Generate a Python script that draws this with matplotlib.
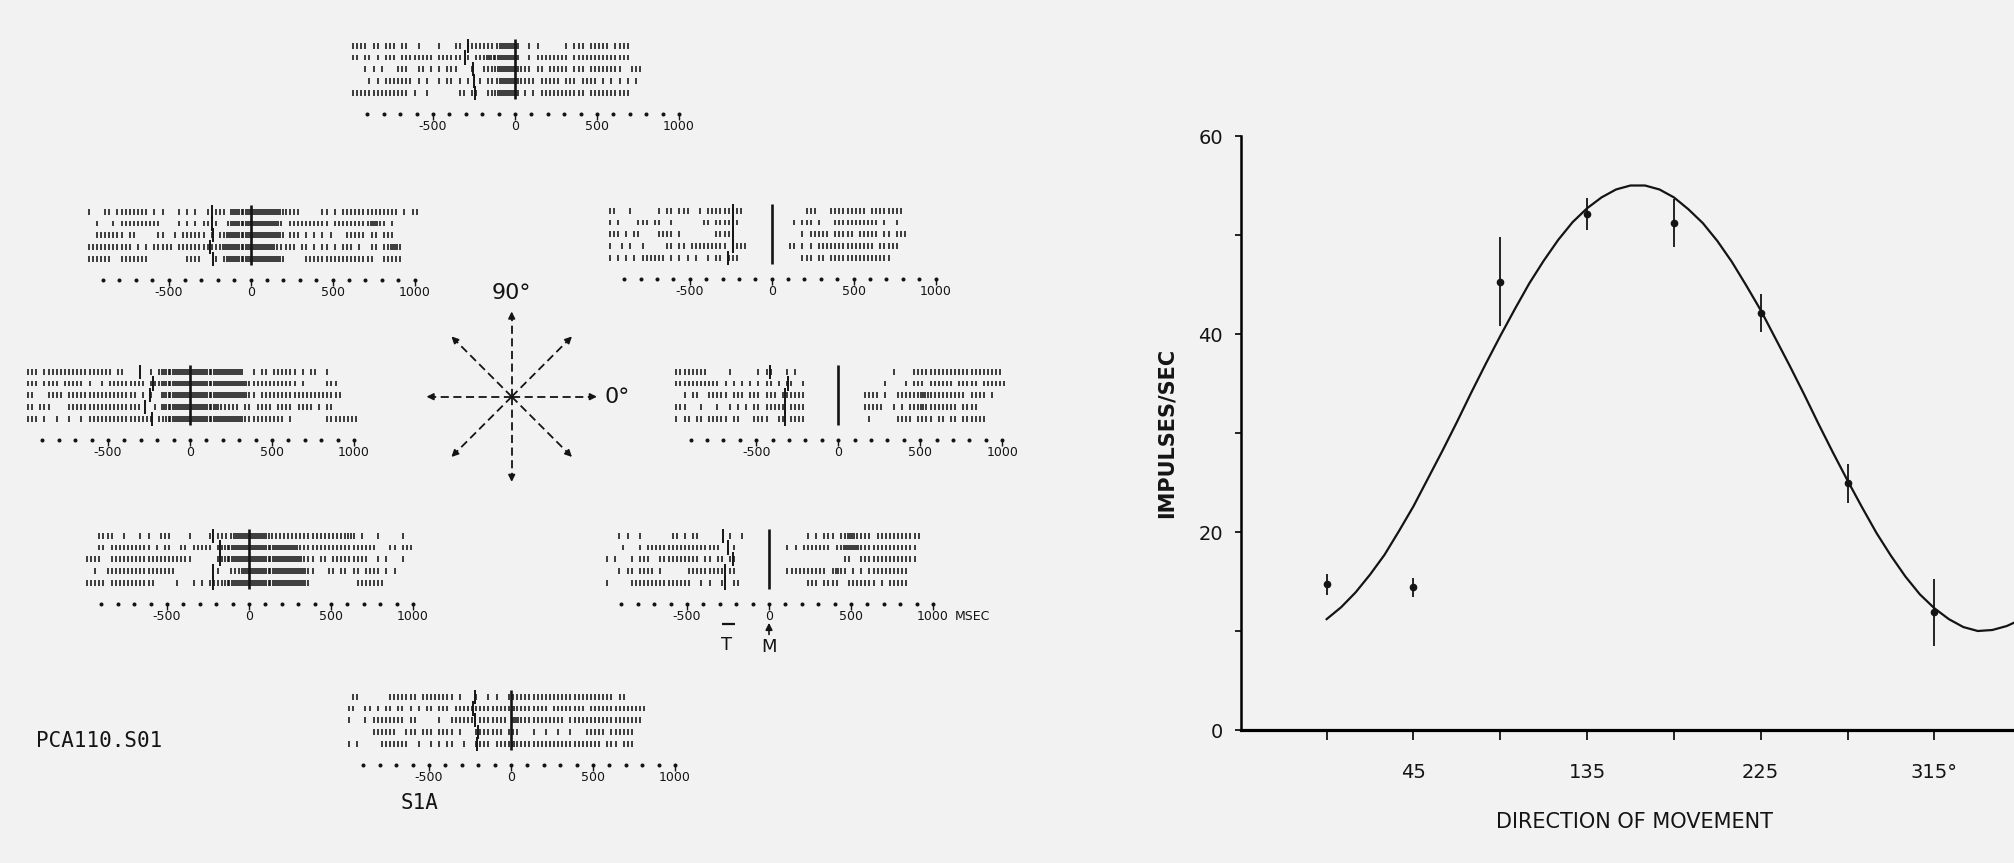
import math
import matplotlib.pyplot as plt

# ---- tuning curve (right panel) ----
directions = [0, 45, 90, 135, 180, 225, 270, 315]
mean_rate = [14.7, 14.4, 45.3, 52.1, 51.2, 42.1, 24.9, 11.9]
sem_rate = [1.1, 1.0, 4.5, 1.6, 2.4, 1.9, 2.0, 3.4]

fit_dir = [0, 7.5, 15, 22.5, 30, 37.5, 45, 52.5, 60, 67.5, 75, 82.5,
           90, 97.5, 105, 112.5, 120, 127.5, 135, 142.5, 150, 157.5, 165, 172.5,
           180, 187.5, 195, 202.5, 210, 217.5, 225, 232.5, 240, 247.5, 255, 262.5,
           270, 277.5, 285, 292.5, 300, 307.5, 315, 322.5, 330, 337.5, 345, 352.5, 357]
fit_rate = [11.2, 12.4, 13.9, 15.7, 17.7, 20.1, 22.6, 25.4, 28.2, 31.1, 34.1, 37.0,
            39.8, 42.5, 45.1, 47.4, 49.5, 51.3, 52.7, 53.8, 54.6, 55.0, 55.0, 54.6,
            53.8, 52.6, 51.2, 49.4, 47.3, 44.9, 42.4, 39.6, 36.8, 33.9, 30.9, 28.0,
            25.2, 22.5, 19.9, 17.6, 15.5, 13.7, 12.3, 11.2, 10.4, 10.0, 10.1, 10.5, 10.9]

# ---- rasters: 5 trials per direction, 25 ms bins starting at -1000 ms,
# groups of 10 bins (250 ms). '|' one spike, '#' two spikes ----
RASTER_START = -1000
BIN_MS = 25

spikes_90 = [
    "||||.||.|| |.||..|... .|...||.|| ||||||#### #..|.|.... ..|.|||.|| |||.||||.. ..........",
    "||.||.|.|| |.|||||||| .||||||.|. |||####### #..|.||||| |||.|||||| ||||||||..",
    "...|.|.|.. .|||..||.| .|.|||...| ..|||##### #|||.||.|| |||.|||.|| ||||||..|| |.........",
    "....|.|.|| |||||.|.|. .|.||.|.|. .|.|||#### #||||.|||| |.|||.|||| .|.|.|.|.|",
    "|||||||||| ||||.|..|. ......||.| |..||##### #.|.|.|||| |||||||.|| ||||||||..",
]
target_90 = [-285, -305, -254, -250, -245]

spikes_135 = [
    "|...||.||| |||||.|.|. ..|.|.|..| .|||.##### ########|| ||.....||. |.|||||||| ||||||.|.| |...",
    "..|...|.|| ||||||||.. ..|.|.|.|| .|..|##### #######|.| |||||||||. |||||||||# #||.|.....",
    "..|||||||. ||.....||. .|.||||||. |.||###### ########.| ||.|.|.|.| ...|||||.| |.|||...",
    "|||||||||| |.|.|.|||| |.|||||||| |||####### ######|||| |.||.|.||. |.|||.|..| |.||##|...",
    "||||||..|| |||||..... ....||||.. .|.|###### ########.. ...||||||| |||||||||| ..|||||...",
]
target_135 = [-238, -238, -228, -248, -228]

spikes_45 = [
    "||...|.... ..|.||.||| ..|.|||||| |||....... ........|| |...|||||| |||.|||||| ||......",
    "|.|....||| .||..|.... ...||.|||| ||........ .....|.||| .|...||||| ||||||.|.. |.........",
    "|||.|.||.. ..||||.|.. ......|||| |......... .......|.| ||||.||||| .|||||.||. |||.......",
    "|..|.|..|. ....||.||. |||||||||. ||||...... ....||.|.| .||||||||| |||||.|||| |.........",
    "|.|.|.|.|| ||||.|.|.| .|..|.||.| ||........ .......||| .||.|||||| |||||||||. ..........",
]
target_45 = [-234, -234, -234, -234, -265]

spikes_180 = [
    "|||.|||||| |||||||||| |.||...... |.|####### ########## ###..|.||. ||||||.|.| |..|...... ....",
    "|||.||||.| ||||.|..|. |||||||||. |||####### ########## ####|||||| ||||||.|.. ...|||.... ....",
    "||...||||. |||||||||| |||||||.|. |..####### ########## ####||.||| |||||||||| |||||||... ....",
    "||.|||.... |||||||||| ||||||||.. .|.####### #######||| ||.||.|||| .||||.|||| .|.||..... ....",
    "|||.|..|.. |..|.||||| |||||||||| |.||###### ########## ###||||||| |||.|..... ...||||||| |...",
]
target_180 = [-305, -224, -244, -274, -234]

spikes_0 = [
    "||||||||.. ...|...... |.||...|.| .......... .......... ...|....|| |||||||||| |||||||||| ....",
    "|||||||||| |.|.|.|.|. |.||.|.||. .|........ .......... .|....|.|| |.||||||.| ||||.||||| |...",
    "..|.||..|| |||.|||.|| |.|||.|||| ||........ ......|||| .|..|||||| ##|||||||| |.||||.|..",
    "|||...|... |..|.|.|.| |.|||||.|| ||........ ......|||| |..|.|.||| #||||||||. ||||......",
    "|.||.||.|| |||.||...| |||..||.|| ||........ .......|.. ....||||.| |||.||.||. ||||||....",
]
target_0 = [-417, -305, -325, -325, -325]

spikes_225 = [
    "...||||..| ...|.|..|| |....|.... |.||||#### #####||||| |||||||||| ||||#|.|.. .|.....|.. ....",
    "...||.|||| ||||||.|.| |..||.|||| |.||###### ########## ##|||||||| |||||||||| |...||.||| ....",
    "||||..|||| |||||||||| ||||||.... ..||###### ########## ###|||.||. |||||||||. .|.|...|.. ....",
    "..|..||||| |||||||||| ||........ ..|..|||## ########## ####||...| |.||.||.|| ||.|.|.... ....",
    "|||||.|||| |||||||... ..|...|.|. ||||###### ########## ####|..... ......|||| |||....... ....",
]
target_225 = [-217, -177, -177, -217, -217]

spikes_315 = [
    "...|.|..|. ......||.| .||....... |..|...... .........| .|.|||.||# #||||.|||| |||||||...",
    "....|...|. |||||||||| ||||||||.. .|........ ....|.|.|| |||||.||## ##|||||||| ||||||....",
    "|.|...|.|| |..||||||| |||.||.||. ||........ .......... ........|| ..|||||||| ||||||....",
    "...|.||.|| ||.|...... |||||||||. ||........ ....|||||| ||||.|#||. |.|.|||||| ||||......",
    "|.....|||| |||||||||| |..|.|..|. .||....... .........| ||.||||..| ||||||.|.| ||||......",
]
target_315 = [-278, -248, -217, -268, -268]
target_bar_315 = (-288, -207)

spikes_270 = [
    ".||....... |||||||.|| ||||||.|.. .|..|.|..| |||||||||| |||||||||| |||||.||.. ..........",
    "||..||.|.| |.||.|.|.| |.|||.|||| |||||||||| #||||||||. ||||||||.| |||||||||| |||.......",
    "|...|.|||| ||||.||... ..|..||||| |.|||||||. ##|||||||| |||.|||||| |||||||||| ||........",
    "......|||| ||..|||.|| |.||||.|.. .|||||||.| ||...|..|. .|..|...|| |||.|||||| ..........",
    "|.|.....|| |||||..|.. |.|.||..|. .||||.|||| #||||||||| |||||||||| ||.|||.||| ..........",
]
target_270 = [-220, -230, -220, -200, -210]

axis_dots = list(range(-900, 1001, 100))
axis_labels = {-500: "-500", 0: "0", 500: "500", 1000: "1000"}
compass_dirs = [0, 45, 90, 135, 180, 225, 270, 315]

# ---- layout (pixels in the 2015x863 canvas) ----
W, H = 2015, 863
BG = "#f2f2f2"
INK = "#141414"
PX_PER_MS = 0.164
ROW_PX = 11.8
T_LO, T_HI = -1050, 1150
Y_TOP, Y_BOT = -0.8, 7.4

# direction -> (x of t=0, y of first trial)
panel_pos = {
    90: (515, 45.7), 135: (250.7, 211.7), 45: (771.7, 210.7),
    180: (190, 371.7), 0: (838.3, 371.7),
    225: (249, 535.7), 315: (769, 535.7), 270: (511, 696.7),
}
panels = {
    0: (spikes_0, target_0), 45: (spikes_45, target_45), 90: (spikes_90, target_90),
    135: (spikes_135, target_135), 180: (spikes_180, target_180),
    225: (spikes_225, target_225), 270: (spikes_270, target_270),
    315: (spikes_315, target_315),
}


def spike_times(row):
    times = []
    for g, grp in enumerate(row.split()):
        for k, c in enumerate(grp):
            t = RASTER_START + 250 * g + BIN_MS * k + BIN_MS / 2
            if c == "|":
                times.append(t)
            elif c == "#":
                times += [t - 7, t + 7]
    return times


def raster_axes(x0, y0):
    left = x0 + T_LO * PX_PER_MS
    width = (T_HI - T_LO) * PX_PER_MS
    top = y0 + Y_TOP * ROW_PX
    height = (Y_BOT - Y_TOP) * ROW_PX
    ax = fig.add_axes([left / W, 1 - (top + height) / H, width / W, height / H])
    ax.set_xlim(T_LO, T_HI)
    ax.set_ylim(Y_BOT, Y_TOP)
    ax.axis("off")
    return ax


fig = plt.figure(figsize=(W / 100, H / 100), dpi=100, facecolor=BG)

for d, (rows, targets) in panels.items():
    ax = raster_axes(*panel_pos[d])
    for r, row in enumerate(rows):
        ax.vlines(spike_times(row), r - 0.25, r + 0.25, color=INK, lw=1.15)
        ax.vlines(targets[r], r - 0.6, r + 0.6, color=INK, lw=1.4)
    ax.vlines(0, -0.55, len(rows) - 0.45, color=INK, lw=1.9)
    ax.plot(axis_dots, [5.75] * len(axis_dots), "o", ms=1.9, color=INK)
    ax.vlines(list(axis_labels), 5.7, 6.3, color=INK, lw=1.0)
    for t, lab in axis_labels.items():
        ax.text(t, 6.85, lab, ha="center", va="center", fontsize=9, color=INK)
    if d == 315:
        ax.text(1130, 6.85, "MSEC", ha="left", va="center", fontsize=9, color=INK)
        ax.hlines(7.5, *target_bar_315, color=INK, lw=1.6, clip_on=False)
        ax.text(-258, 9.25, "T", ha="center", va="center", fontsize=13, color=INK)
        ax.text(0, 9.45, "M", ha="center", va="center", fontsize=13, color=INK)
        ax.annotate("", xy=(0, 7.15), xytext=(0, 8.6), annotation_clip=False,
                    arrowprops=dict(arrowstyle="-|>", lw=1.2, color=INK, mutation_scale=10))

# ---- compass of movement directions ----
cx, cy, half = 511.7, 396.7, 110
cax = fig.add_axes([(cx - half) / W, 1 - (cy + half) / H, 2 * half / W, 2 * half / H])
cax.set_xlim(-1.1, 1.1)
cax.set_ylim(-1.1, 1.1)
cax.axis("off")
r_arrow = 0.88
for a in compass_dirs:
    dx, dy = math.cos(math.radians(a)), math.sin(math.radians(a))
    cax.plot([0, dx * r_arrow * 0.9], [0, dy * r_arrow * 0.9], color=INK, lw=1.3,
             dashes=(4.5, 2.5))
    cax.annotate("", xy=(dx * r_arrow, dy * r_arrow),
                 xytext=(dx * r_arrow * 0.86, dy * r_arrow * 0.86),
                 arrowprops=dict(arrowstyle="-|>", lw=1.2, color=INK, mutation_scale=10))
cax.text(0, 1.04, "90°", ha="center", va="center", fontsize=16, color=INK)
cax.text(0.93, 0, "0°", ha="left", va="center", fontsize=16, color=INK)

fig.text(36 / W, 1 - 741 / H, "PCA110.S01", family="DejaVu Sans Mono",
         fontsize=15, va="center", color=INK)
fig.text(401 / W, 1 - 803 / H, "S1A", family="DejaVu Sans Mono",
         fontsize=15, va="center", color=INK)

# ---- tuning curve ----
ax = fig.add_axes([1241 / W, 1 - 730 / H, (W - 1241) / W, (730 - 136) / H])
ax.set_facecolor(BG)
ax.set_xlim(-44.4, 356.8)
ax.set_ylim(0, 60)
ax.plot(fit_dir, fit_rate, color=INK, lw=1.6)
ax.errorbar(directions, mean_rate, yerr=sem_rate, fmt="o", ms=4.5, color=INK,
            elinewidth=1.3, capsize=0)
for s in ("top", "right"):
    ax.spines[s].set_visible(False)
ax.spines["left"].set_linewidth(1.8)
ax.spines["bottom"].set_linewidth(2.3)
ax.set_xticks(directions)
ax.set_xticklabels(["", "45", "", "135", "", "225", "", "315°"])
ax.set_yticks(range(0, 61, 10))
ax.set_yticklabels(["0", "", "20", "", "40", "", "60"])
ax.tick_params(axis="x", length=7, width=1.3, pad=17, labelsize=14, colors=INK)
ax.tick_params(axis="y", length=4, width=1.3, pad=9, labelsize=14, colors=INK)
ax.text(-0.0963, 0.5, "IMPULSES/SEC", transform=ax.transAxes, rotation=90,
        ha="center", va="center", fontsize=15, fontweight="bold", color=INK)
ax.text(0.5078, -0.155, "DIRECTION OF MOVEMENT", transform=ax.transAxes,
        ha="center", va="center", fontsize=15, color=INK)

fig.savefig("out.png", dpi=100, facecolor=BG)
